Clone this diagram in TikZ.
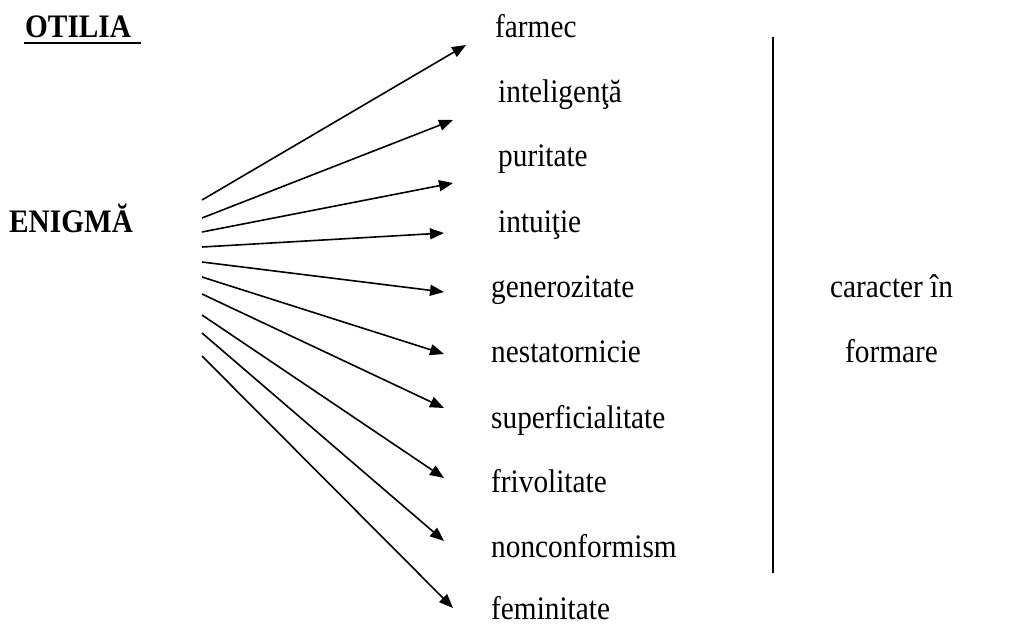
\documentclass[tikz,border=0pt]{standalone}
\usepackage{fontspec}
\usepackage{graphicx}
\setmainfont{Liberation Serif}
\usetikzlibrary{arrows.meta}
\newcommand{\tallt}[1]{\scalebox{1}[1.12]{#1}}
\begin{document}
\begin{tikzpicture}[x=1pt,y=-1pt,
  lbl/.style={anchor=base west,inner sep=0pt,font=\fontsize{29.3}{32}\selectfont},
  head/.style={anchor=base west,inner sep=0pt,font=\fontsize{29.3}{32}\selectfont\bfseries},
  arr/.style={line width=1.6pt,-{Triangle[length=14pt,width=11pt]}}]
\useasboundingbox (0,0) rectangle (1014,625);
% titles
\node[head] (otilia) at (25,37) {\tallt{OTILIA}};
\draw[line width=2pt] (24,42.5) coordinate (ulA) -- (141,42.5) coordinate (ulB);
\node[head] (enigma) at (9,232) {\tallt{ENIGMĂ}};
% words
\node[lbl] (w1) at (495,37) {\tallt{farmec}};
\node[lbl] (w2) at (498,102) {\tallt{inteligenţă}};
\node[lbl] (w3) at (498,166) {\tallt{puritate}};
\node[lbl] (w4) at (498,232) {\tallt{intuiţie}};
\node[lbl] (w5) at (491,297) {\tallt{generozitate}};
\node[lbl] (w6) at (491,362) {\tallt{nestatornicie}};
\node[lbl] (w7) at (491,428) {\tallt{superficialitate}};
\node[lbl] (w8) at (491,492) {\tallt{frivolitate}};
\node[lbl] (w9) at (491,557) {\tallt{nonconformism}};
\node[lbl] (w10) at (491,619) {\tallt{feminitate}};
\node[lbl] (c1) at (830,297) {\tallt{caracter în}};
\node[lbl] (c2) at (845,362) {\tallt{formare}};
% arrow start and end points
\coordinate (s1) at (202,200); \coordinate (e1) at (466,45);
\coordinate (s2) at (202,218); \coordinate (e2) at (453,120);
\coordinate (s3) at (202,232); \coordinate (e3) at (453,183);
\coordinate (s4) at (202,247); \coordinate (e4) at (444,233);
\coordinate (s5) at (202,262); \coordinate (e5) at (444,292);
\coordinate (s6) at (202,277); \coordinate (e6) at (444,354);
\coordinate (s7) at (202,294); \coordinate (e7) at (444,408);
\coordinate (s8) at (202,315); \coordinate (e8) at (444,478);
\coordinate (s9) at (202,333); \coordinate (e9) at (444,541);
\coordinate (s10) at (202,356); \coordinate (e10) at (453,608);
\foreach \i in {1,...,10} \draw[arr] (s\i) -- (e\i);
% separator
\coordinate (vt) at (773,37); \coordinate (vb) at (773,573);
\draw[line width=1.6pt] (vt) -- (vb);
\end{tikzpicture}
\end{document}
